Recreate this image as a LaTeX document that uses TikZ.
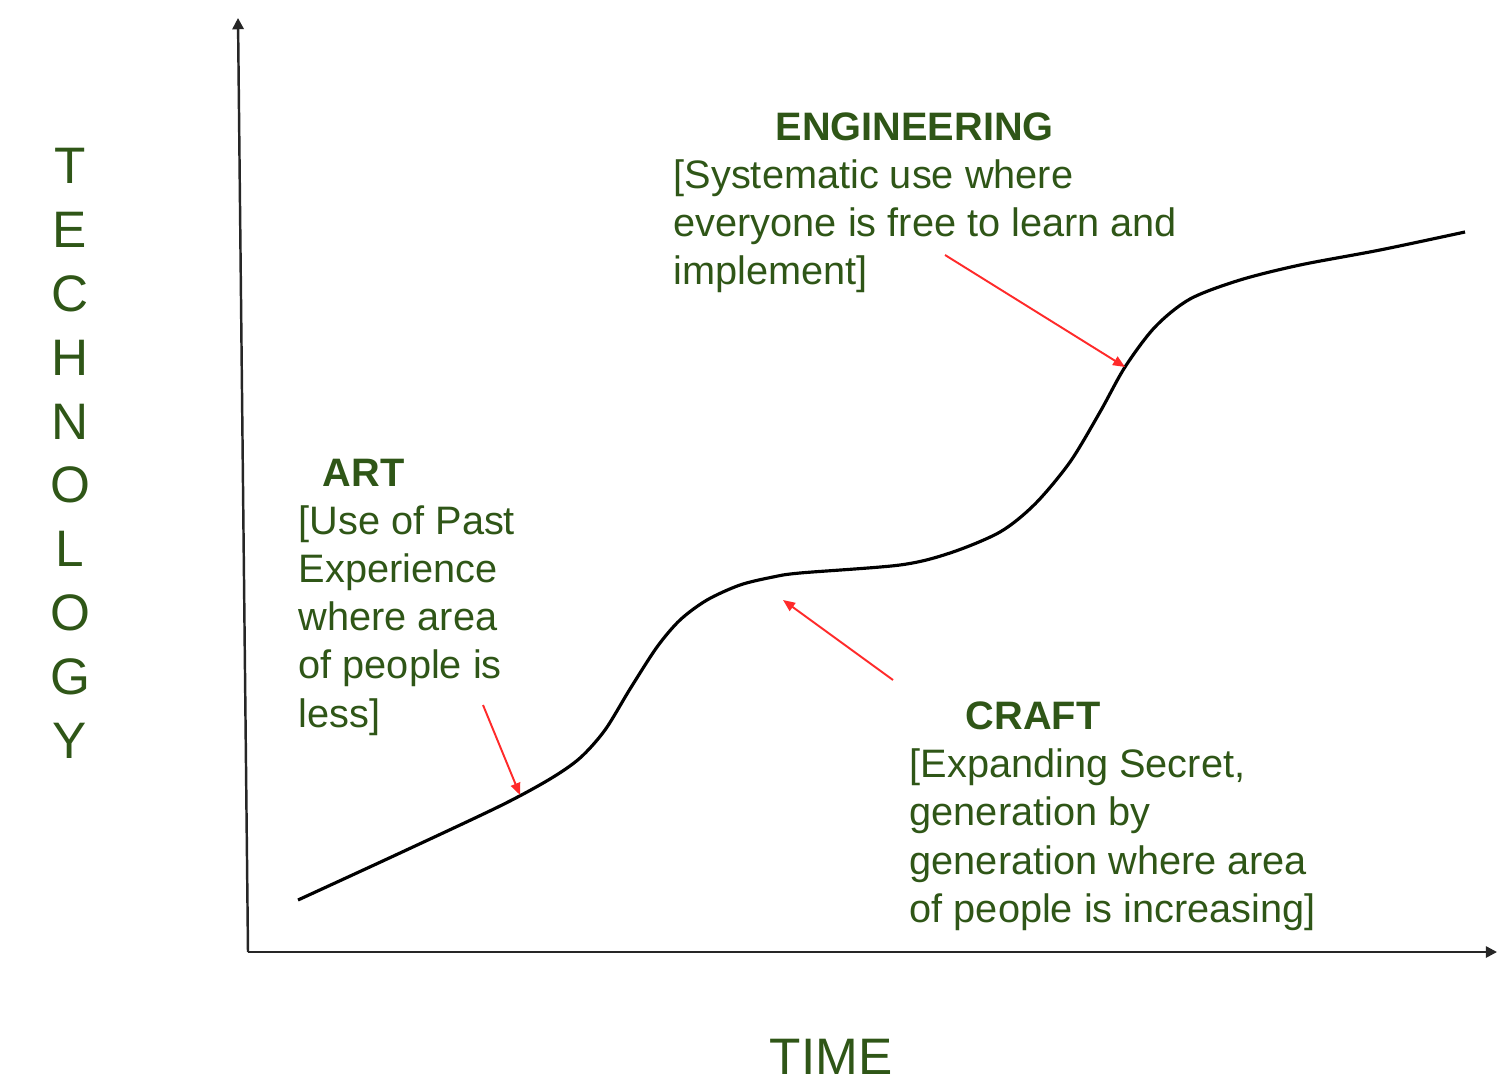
\documentclass[tikz,border=0pt]{standalone}
\usepackage{fontspec}
\setmainfont{Liberation Sans}
\usetikzlibrary{arrows.meta}
\definecolor{labelgreen}{HTML}{2F5617}
\definecolor{pointred}{HTML}{FF2A2A}

\begin{document}
\begin{tikzpicture}[>=Stealth]

\tikzset{
  axis/.style={line width=0.7pt, draw=black!85, -{Triangle[length=3.2pt,width=3.2pt]}},
  growth/.style={line width=0.9pt, black},
  pointer/.style={line width=0.55pt, pointred, -{Triangle[length=3.4pt,width=2.8pt]}},
  phase/.style={anchor=base west, inner sep=0pt, align=left, text=labelgreen,
    font=\fontsize{11.3}{13.66}\selectfont},
  axislabel/.style={anchor=base, inner sep=0pt, align=center, text=labelgreen,
    font=\fontsize{14.6}{18.15}\selectfont}
}

\useasboundingbox (0,0) rectangle (15.11,10.82);

% --- Eixos ---
\coordinate (origin) at (2.48,1.30);
\coordinate (ytop) at (2.38,10.64);
\coordinate (xend) at (14.97,1.30);
\draw[axis] (origin) -- (ytop);
\draw[axis] (origin) -- (xend);

% Rotulos dos eixos (ancora = linha de base da ultima linha)
\node[axislabel] (ylab) at (0.70,3.24) {T\\E\\C\\H\\N\\O\\L\\O\\G\\Y};
\node[axislabel] (xlab) at (8.31,0.08) {TIME};

% --- Curva (S duplo) ---
\draw[growth] plot[smooth, tension=0.5] coordinates {
  (2.98,1.82) (4.00,2.29) (5.00,2.76) (5.50,3.03) (5.80,3.24) (6.05,3.52)
  (6.30,3.93) (6.57,4.35) (6.80,4.62) (7.07,4.82) (7.40,4.97) (7.73,5.05)
  (8.00,5.09) (9.00,5.17) (9.50,5.29) (10.00,5.50) (10.35,5.78)
  (10.70,6.20) (11.00,6.70) (11.25,7.15) (11.55,7.55) (11.90,7.83)
  (12.40,8.02) (13.00,8.17) (13.80,8.32) (14.65,8.50)};

% --- Fases ---
\node[phase] (art) at (2.98,3.55)
  {\hspace*{0.24cm}\textbf{ART}\\{[}Use of Past\\Experience\\where area\\of people is\\less]};
\node[phase] (craft) at (9.09,1.60)
  {\hspace*{0.56cm}\textbf{CRAFT}\\{[}Expanding Secret,\\generation by\\generation where area\\of people is increasing]};
\node[phase] (eng) at (6.73,7.97)
  {\hspace*{1.02cm}\textbf{ENGINEERING}\\{[}Systematic use where\\everyone is free to learn and\\implement]};

% --- Setas vermelhas ---
\coordinate (artfrom) at (4.83,3.77);
\coordinate (artto) at (5.20,2.87);
\coordinate (craftfrom) at (8.93,4.02);
\coordinate (craftto) at (7.83,4.82);
\coordinate (engfrom) at (9.45,8.27);
\coordinate (engto) at (11.25,7.15);

\draw[pointer] (artfrom) -- (artto);
\draw[pointer] (craftfrom) -- (craftto);
\draw[pointer] (engfrom) -- (engto);

\end{tikzpicture}
\end{document}
